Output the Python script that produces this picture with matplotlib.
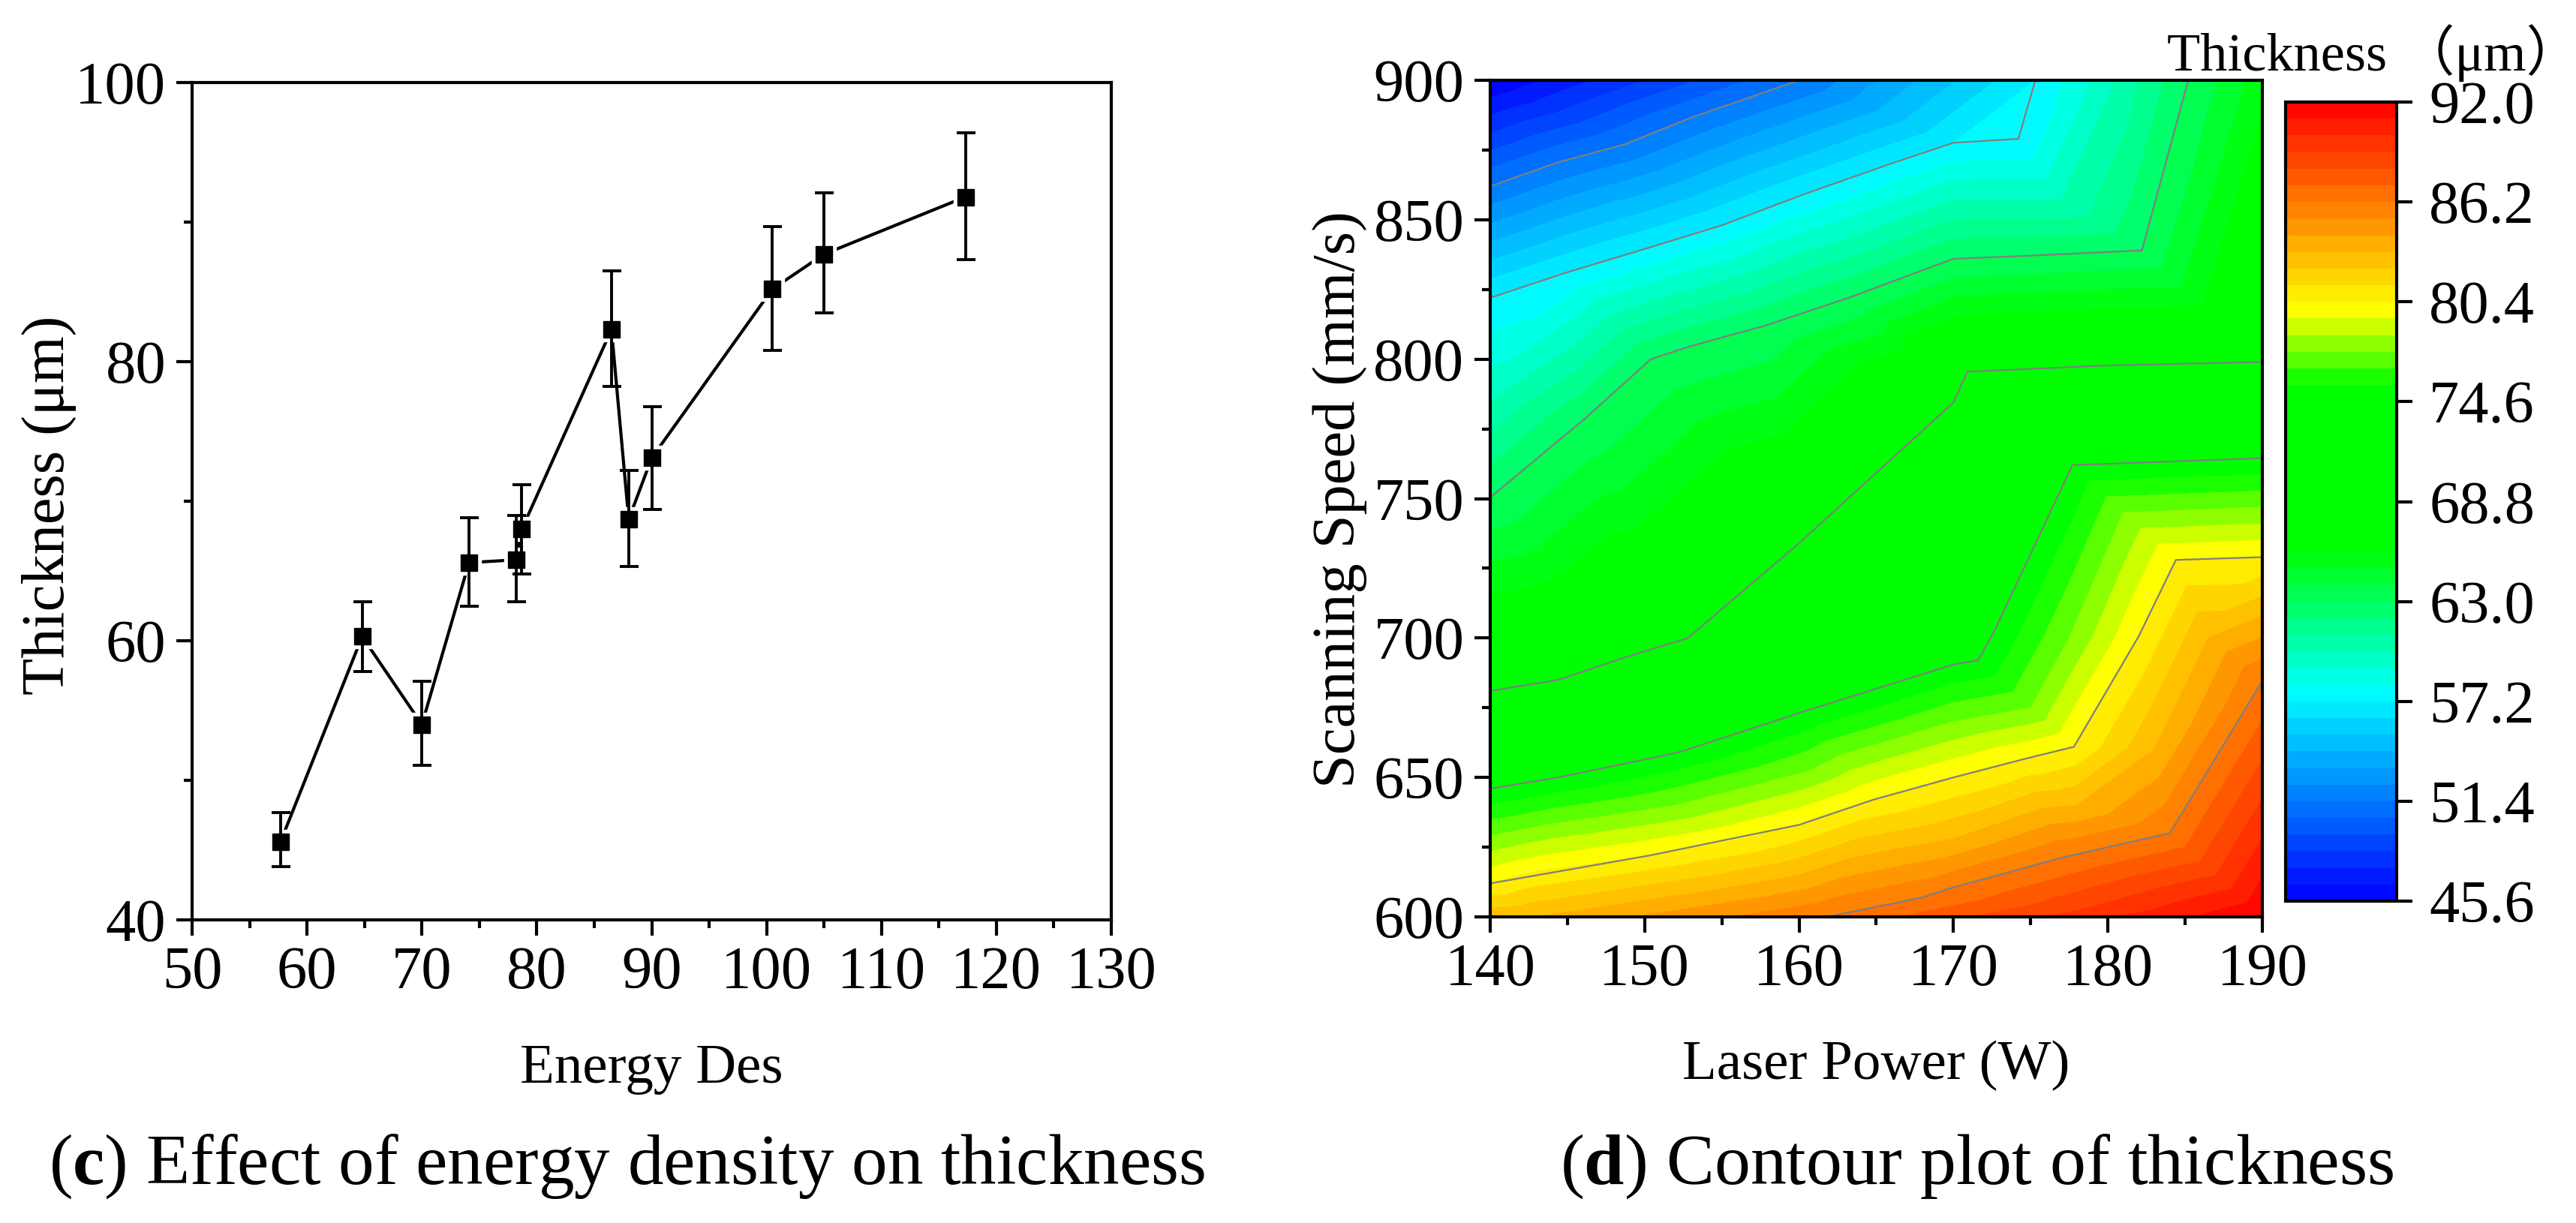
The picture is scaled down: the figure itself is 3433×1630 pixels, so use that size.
import numpy as np
import matplotlib
matplotlib.use("Agg")
import matplotlib.pyplot as plt
import matplotlib.tri as mtri
from matplotlib.colors import LinearSegmentedColormap
from matplotlib.ticker import MultipleLocator

WIDTH, HEIGHT = 3433, 1630

plt.rcParams["font.family"] = ["Liberation Serif", "Noto Sans CJK SC", "DejaVu Sans"]
plt.rcParams["mathtext.fontset"] = "custom"
plt.rcParams["mathtext.bf"] = "Liberation Serif:bold"
plt.rcParams["mathtext.rm"] = "Liberation Serif"

# (c) thickness against energy density
energy_density = [57.7, 64.8, 70.0, 74.1, 78.2, 78.7, 86.5, 88.0, 90.0, 100.5, 105.0, 117.3]
thickness = [45.6, 60.3, 54.0, 65.6, 65.8, 68.0, 82.3, 68.7, 73.1, 85.2, 87.7, 91.8]
thickness_low = [43.8, 57.8, 51.1, 62.5, 62.8, 64.8, 78.2, 65.3, 69.4, 80.8, 83.5, 87.3]
thickness_high = [47.7, 62.8, 57.1, 68.8, 69.0, 71.2, 86.5, 72.2, 76.8, 89.7, 92.1, 96.4]

# (d) contour lines: level -> (laser power, scanning speed)
contour_levels = [51.4, 57.2, 63.0, 68.8, 74.6, 80.4, 86.2]
line_514 = [(140, 862), (144.4, 870.6), (148.7, 877), (153, 886.6), (160, 900)]
line_572 = [(140, 822), (144.9, 831), (150.3, 840), (155, 848), (160.5, 859.5),
            (165.9, 870), (170, 877.6), (174.2, 879), (175.3, 900)]
line_630 = [(140, 750.4), (146.2, 779), (150.4, 800), (153, 804.7), (157.8, 812),
            (163.2, 822), (170, 836), (174.5, 837), (182.2, 839), (185.2, 900)]
line_688 = [(140, 681), (144.4, 685), (148.7, 693), (152.8, 700), (160, 734),
            (170, 784.5), (170.9, 795.5), (179.8, 797.7), (190, 799)]
line_746 = [(140, 646), (144.4, 650), (152.2, 659), (160.5, 674), (170, 690.5),
            (171.6, 692), (172.6, 702), (177.7, 762), (190, 764.5)]
line_804 = [(140, 612), (150.3, 622), (160, 633), (164.8, 642), (170, 650),
            (174.5, 656.5), (177.8, 661), (182, 700.7), (184.4, 728), (190, 729)]
line_862 = [(161.8, 600), (168, 607), (170, 610.6), (177.2, 621.5), (184, 630), (190, 684.6)]
contour_lines = [line_514, line_572, line_630, line_688, line_746, line_804, line_862]

# band edges between the drawn lines, estimated from the colours
band_levels = [60.1, 77.5, 83.3]
band_601 = [(140, 785), (150, 820), (160, 838), (170, 857), (177, 857), (180.5, 900)]
band_775 = [(140, 629), (152, 640), (160.5, 652), (170, 670), (175, 675), (177.5, 700),
            (181, 745), (190, 747)]
band_833 = [(143, 600), (160, 615), (170, 628), (178, 640), (183, 660), (186.5, 700), (190, 708)]
band_lines = [band_601, band_775, band_833]

# values at the plot corners
corner_power = [140, 140, 190, 190]
corner_speed = [600, 900, 600, 900]
corner_thickness = [83.0, 45.6, 92.0, 65.5]

cbar_ticks = [45.6, 51.4, 57.2, 63.0, 68.8, 74.6, 80.4, 86.2, 92.0]
cbar_colors = [(45.6, "#0000ff"), (57.8, "#00ffff"), (66.0, "#00ff00"),
               (75.5, "#00ff00"), (80.0, "#ffff00"), (92.0, "#ff0000")]
n_bands = 48


def px_axes(fig, left, top, right, bottom):
    """pixel box -> figure axes"""
    return fig.add_axes([left / WIDTH, 1 - bottom / HEIGHT,
                         (right - left) / WIDTH, (bottom - top) / HEIGHT])


def style_axes(ax):
    for spine in ax.spines.values():
        spine.set_linewidth(3)
    ax.tick_params(which="major", length=15, width=3, labelsize=58, pad=10)
    ax.tick_params(which="minor", length=8, width=3)


fig = plt.figure(figsize=(WIDTH / 100, HEIGHT / 100), dpi=100)

# left panel
ax1 = px_axes(fig, 256, 110, 1481, 1226)
yerr = [np.array(thickness) - np.array(thickness_low),
        np.array(thickness_high) - np.array(thickness)]
ax1.plot(energy_density, thickness, color="black", lw=3, zorder=1)
ax1.plot(energy_density, thickness, ls="none", marker="s", ms=23, mfc="white", mec="white", zorder=2)
ax1.errorbar(energy_density, thickness, yerr=yerr, ls="none", color="black",
             elinewidth=2.8, capsize=9, capthick=2.8, zorder=3)
ax1.plot(energy_density, thickness, ls="none", marker="s", ms=16.5, color="black", zorder=4)
ax1.set_xlim(50, 130)
ax1.set_ylim(40, 100)
ax1.xaxis.set_major_locator(MultipleLocator(10))
ax1.xaxis.set_minor_locator(MultipleLocator(5))
ax1.yaxis.set_major_locator(MultipleLocator(20))
ax1.yaxis.set_minor_locator(MultipleLocator(10))
style_axes(ax1)
fig.text(868 / WIDTH, 1 - 1425 / HEIGHT, "Energy Des", fontsize=54, ha="center", va="center")
fig.text(65 / WIDTH, 1 - 673 / HEIGHT, "Thickness (μm)", fontsize=58, rotation=90, ha="center", va="center")

# right panel
ax2 = px_axes(fig, 1986, 107, 3015, 1222)
power = list(corner_power)
speed = list(corner_speed)
values = list(corner_thickness)
for level, line in zip(contour_levels + band_levels, contour_lines + band_lines):
    for p, s in line:
        power.append(p)
        speed.append(s)
        values.append(level)

# triangles picked in plot proportions, speed axis is 6x the power axis
shape = mtri.Triangulation(power, np.array(speed) / 6)
triang = mtri.Triangulation(power, speed, triangles=shape.triangles)
span = cbar_colors[-1][0] - cbar_colors[0][0]
nodes = [((v - cbar_colors[0][0]) / span, c) for v, c in cbar_colors]
cmap = LinearSegmentedColormap.from_list("thickness", nodes, N=256)
levels = np.linspace(45.6, 92.0, n_bands + 1)
cf = ax2.tricontourf(triang, values, levels=levels, cmap=cmap, vmin=45.6, vmax=92.0)
for line in contour_lines:
    xs, ys = zip(*line)
    ax2.plot(xs, ys, color="#7f7f7f", lw=1.6)
ax2.set_xlim(140, 190)
ax2.set_ylim(600, 900)
ax2.xaxis.set_major_locator(MultipleLocator(10))
ax2.xaxis.set_minor_locator(MultipleLocator(5))
ax2.yaxis.set_major_locator(MultipleLocator(50))
ax2.yaxis.set_minor_locator(MultipleLocator(25))
style_axes(ax2)
fig.text(2500 / WIDTH, 1 - 1420 / HEIGHT, "Laser Power (W)", fontsize=54, ha="center", va="center")
fig.text(1786 / WIDTH, 1 - 666 / HEIGHT, "Scanning Speed (mm/s)", fontsize=58, rotation=90, ha="center", va="center")

# colour bar
cax = px_axes(fig, 3046, 136, 3194, 1201)
cbar = fig.colorbar(cf, cax=cax, ticks=cbar_ticks)
cbar.ax.set_yticklabels([f"{t:.1f}" for t in cbar_ticks])
cbar.ax.minorticks_off()
cbar.outline.set_linewidth(3)
cbar.ax.tick_params(length=15, width=3, labelsize=58, pad=16)
fig.text(2888 / WIDTH, 1 - 71 / HEIGHT, "Thickness （μm）", fontsize=52, ha="left", va="center")

# captions
fig.text(836 / WIDTH, 1 - 1555 / HEIGHT, r"($\mathbf{c}$) Effect of energy density on thickness",
         fontsize=68.5, ha="center", va="center")
fig.text(2635 / WIDTH, 1 - 1555 / HEIGHT, r"($\mathbf{d}$) Contour plot of thickness",
         fontsize=69, ha="center", va="center")

fig.savefig("out.png", dpi=100)
